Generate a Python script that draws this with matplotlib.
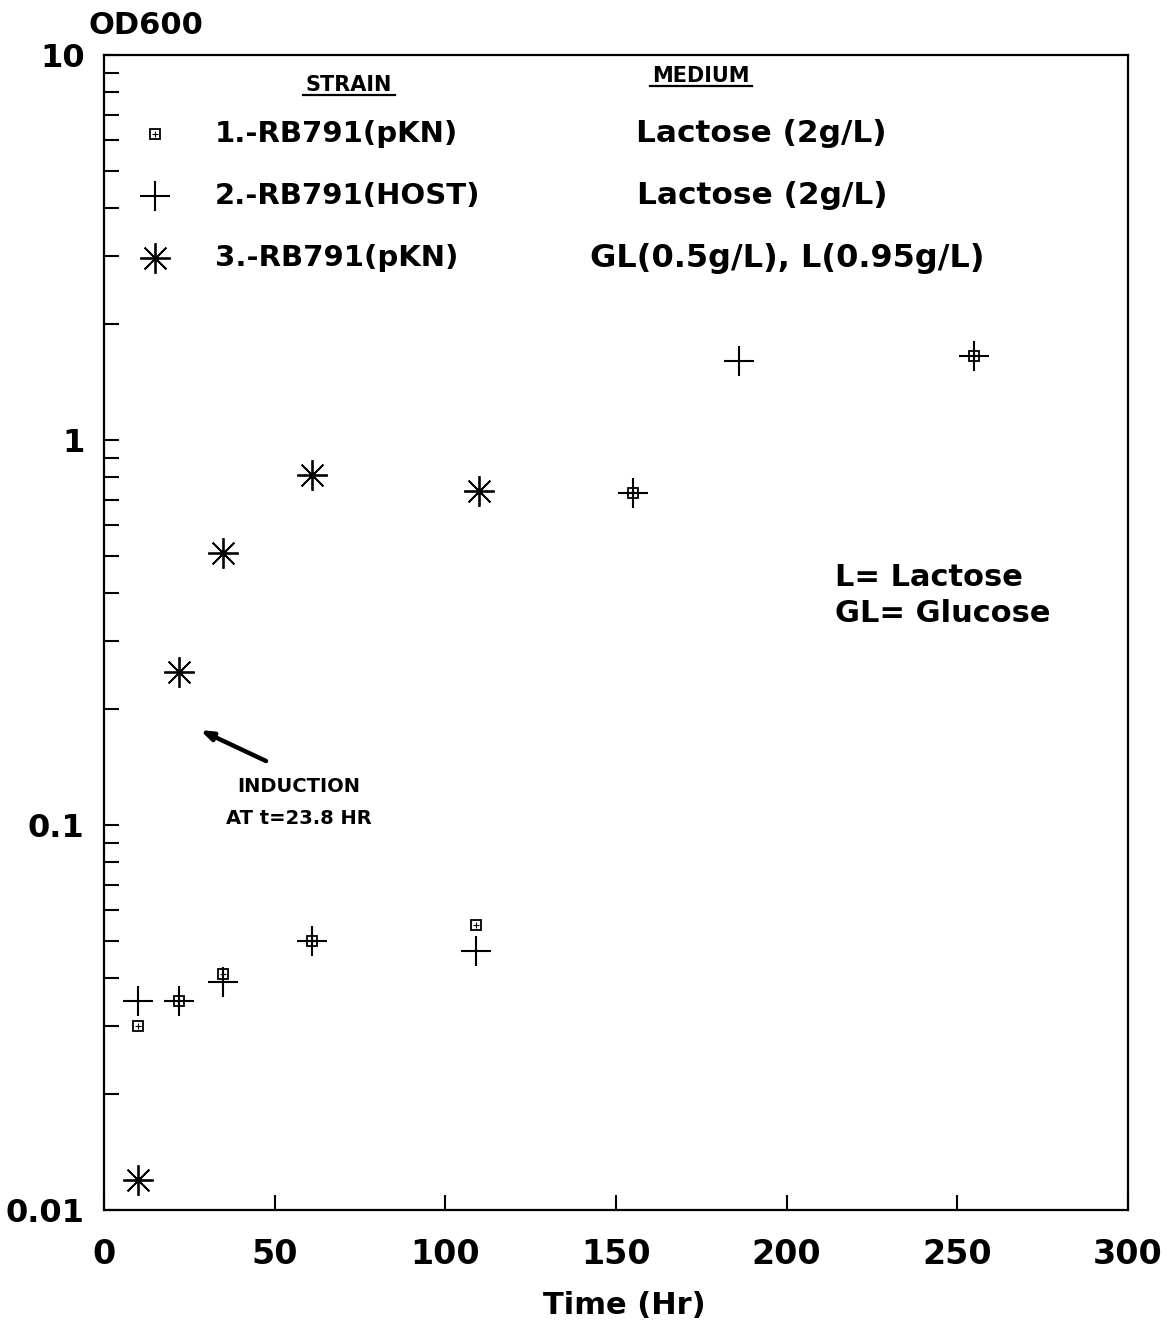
import numpy as np
import matplotlib
matplotlib.use("Agg")
import matplotlib.pyplot as plt
from matplotlib.ticker import FixedLocator, LogLocator, NullFormatter
from matplotlib.lines import Line2D

# strain 1: RB791(pKN) on lactose 2 g/L
time_1 = [10, 22, 35, 61, 109, 155, 255]
od_1 = [0.030, 0.035, 0.041, 0.050, 0.055, 0.73, 1.65]

# strain 2: RB791 host on lactose 2 g/L
time_2 = [10, 22, 35, 61, 109, 155, 186, 255]
od_2 = [0.035, 0.035, 0.039, 0.050, 0.047, 0.73, 1.60, 1.65]

# strain 3: RB791(pKN) on glucose 0.5 g/L + lactose 0.95 g/L
time_3 = [10, 22, 35, 61, 110]
od_3 = [0.012, 0.25, 0.51, 0.81, 0.735]

strains = ["1.-RB791(pKN)", "2.-RB791(HOST)", "3.-RB791(pKN)"]
media = ["Lactose (2g/L)", "Lactose (2g/L)", "GL(0.5g/L), L(0.95g/L)"]

y_ticks = [0.01, 0.1, 1, 10]
y_labels = ["0.01", "0.1", "1", "10"]
x_ticks = [0, 50, 100, 150, 200, 250, 300]

plt.rcParams["font.family"] = ["DejaVu Sans"]
plt.rcParams["font.weight"] = "bold"

W, H = 1172, 1320
fig = plt.figure(figsize=(W / 100, H / 100), dpi=100)
ax = fig.add_axes([104 / W, 1 - 1210 / H, 1024 / W, 1155 / H])


def fp(px, py):
    # reference pixel -> figure fraction
    return px / W, 1 - py / H


sq_style = dict(marker="s", ms=7, mfc="none", mec="black", mew=1.3, ls="none")
sq_in = dict(marker="+", ms=4, mec="black", mew=0.8, ls="none")
plus_style = dict(marker="+", ms=22, mec="black", mew=1.5, ls="none")
star_style = dict(marker=(8, 2, 0), ms=22, mec="black", mew=1.3, ls="none")

ax.plot(time_2, od_2, **plus_style)
ax.plot(time_1, od_1, **sq_style)
ax.plot(time_1, od_1, **sq_in)
ax.plot(time_3, od_3, **star_style)

ax.set_yscale("log")
ax.set_xlim(0, 300)
ax.set_ylim(0.01, 10)
ax.yaxis.set_major_locator(FixedLocator(y_ticks))
ax.set_yticklabels(y_labels)
ax.yaxis.set_minor_locator(LogLocator(base=10, subs=np.arange(2, 10)))
ax.yaxis.set_minor_formatter(NullFormatter())
ax.set_xticks(x_ticks)
ax.set_xticklabels([str(v) for v in x_ticks])

ax.tick_params(axis="both", which="both", direction="in", width=1.5, length=11)
ax.tick_params(axis="y", which="major", labelsize=23, pad=14)
ax.tick_params(axis="x", which="major", labelsize=24, pad=20)
for s in ax.spines.values():
    s.set_linewidth(1.6)

fig.text(*fp(88, 25), "OD600", fontsize=22, ha="left", va="center")
fig.text(*fp(624, 1305), "Time (Hr)", fontsize=22, ha="center", va="center")

# legend block
fig.text(*fp(349, 85), "STRAIN", fontsize=15, ha="center", va="center")
fig.text(*fp(701, 76), "MEDIUM", fontsize=15, ha="center", va="center")
for x0, x1, yy in [(303, 395, 95), (650, 752, 86)]:
    fig.add_artist(Line2D([x0 / W, x1 / W], [1 - yy / H, 1 - yy / H],
                          color="black", lw=1.6))

rows_y = [134, 196, 258]
marker_sets = [[sq_style, sq_in], [plus_style], [star_style]]
for yy, name, med, mks in zip(rows_y, strains, media, marker_sets):
    for mk in mks:
        fig.add_artist(Line2D([155 / W], [1 - yy / H], **mk))
    fig.text(*fp(215, yy), name, fontsize=21, ha="left", va="center")
fig.text(*fp(636, rows_y[0]), media[0], fontsize=22.5, ha="left", va="center")
fig.text(*fp(637, rows_y[1]), media[1], fontsize=22.5, ha="left", va="center")
fig.text(*fp(590, rows_y[2]), media[2], fontsize=23, ha="left", va="center")

fig.text(*fp(835, 578), "L= Lactose", fontsize=22, ha="left", va="center")
fig.text(*fp(835, 614), "GL= Glucose", fontsize=22, ha="left", va="center")

# induction note
fig.text(*fp(299, 787), "INDUCTION", fontsize=14, ha="center", va="center")
fig.text(*fp(299, 818), "AT t=23.8 HR", fontsize=14, ha="center", va="center")
ax.annotate("", xy=fp(200, 730), xytext=fp(266, 761),
            xycoords="figure fraction", textcoords="figure fraction",
            arrowprops=dict(arrowstyle="-|>,head_length=0.7,head_width=0.25",
                            lw=3.2, color="black", shrinkA=0, shrinkB=0))

fig.savefig("out.png", dpi=100)
